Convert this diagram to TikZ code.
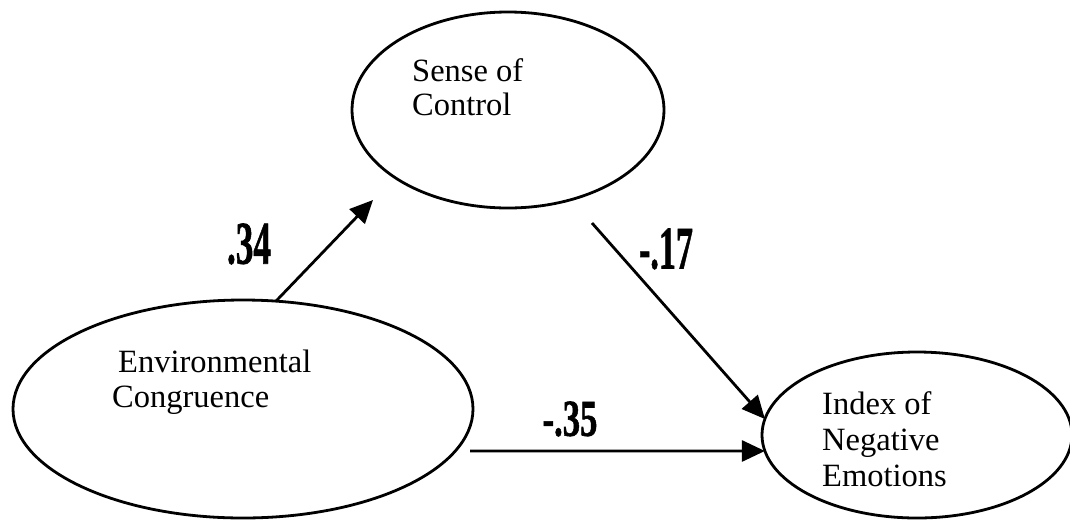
\documentclass[tikz,border=0pt]{standalone}
\usepackage{fontspec}
\setmainfont{Liberation Serif}
\newfontfamily\coeffont[FakeBold=1.2]{Liberation Serif Bold}
\usetikzlibrary{shapes.geometric,arrows.meta}
\tikzset{
  construct/.style={draw, ellipse, line width=2.8pt, inner sep=0pt, outer sep=0pt},
  caption/.style={anchor=north west, inner sep=0pt, align=left},
  effect/.style={line width=2.8pt, -{Triangle[length=23pt,width=21pt]}},
  coef/.style={inner sep=0pt}
}
\begin{document}
\begin{tikzpicture}[x=1pt,y=-1pt]
\useasboundingbox (0,0) rectangle (1070,520);

% latent constructs
\node[construct, minimum width=312pt, minimum height=196pt] (soc) at (508,110) {};
\node[construct, minimum width=460pt, minimum height=218pt] (env) at (243,409) {};
\node[construct, minimum width=310pt, minimum height=166pt] (ine) at (917,435) {};

% construct names
\node[caption, font=\fontsize{32.5}{34}\selectfont] (soct) at (412,58) {Sense of\\Control};
\node[caption, font=\fontsize{32.5}{35}\selectfont] (envt) at (112,350) {\hspace*{6pt}Environmental\\Congruence};
\node[caption, font=\fontsize{32.5}{36}\selectfont] (inet) at (822,391) {Index of\\Negative\\Emotions};

% free ends of the paths
\coordinate (p34) at (373,200);
\coordinate (p17) at (592,223);
\coordinate (p35) at (470,451);

% paths
\draw[effect] (env.73) -- (p34);
\draw[effect] (p17) -- (ine.174.5);
\draw[effect] (p35) -- (ine.186);

% path coefficients
\node[coef, font=\coeffont\fontsize{60.6}{60}\selectfont] (c34) at (249,244) {\scalebox{0.58}[1]{.34}};
\node[coef, font=\coeffont\fontsize{60.6}{60}\selectfont] (c17) at (666,249) {\scalebox{0.563}[1]{-.17}};
\node[coef, font=\coeffont\fontsize{51.8}{52}\selectfont] (c35) at (570,419) {\scalebox{0.67}[1]{-.35}};
\end{tikzpicture}
\end{document}
